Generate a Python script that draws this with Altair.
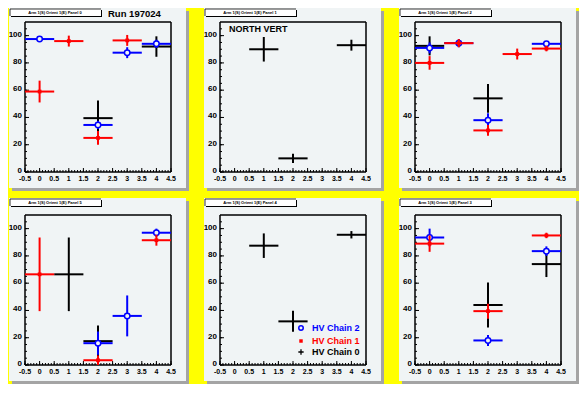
import altair as alt
import pandas as pd

# ---------------- data ----------------
PANEL_TITLES = [
    "Arm 1(S) Orient 1(E) Panel 0",
    "Arm 1(S) Orient 1(E) Panel 1",
    "Arm 1(S) Orient 1(E) Panel 2",
    "Arm 1(S) Orient 1(E) Panel 5",
    "Arm 1(S) Orient 1(E) Panel 4",
    "Arm 1(S) Orient 1(E) Panel 3",
]
CHAIN_LABELS = ["HV Chain 2", "HV Chain 1", "HV Chain 0"]
CHAIN_COLORS = ["#0000ff", "#ff0000", "#000000"]

# Panel 0
p0_c2_x = [0, 2, 3, 4]; p0_c2_y = [97.5, 34.5, 87.5, 94.0]; p0_c2_e = [1.5, 3, 4, 3]
p0_c1_x = [0, 1, 2, 3]; p0_c1_y = [59.0, 96.0, 25.0, 96.5]; p0_c1_e = [8, 4, 5, 4]
p0_c0_x = [2, 4];       p0_c0_y = [39.5, 92.0];             p0_c0_e = [13, 7.5]
# Panel 1
p1_c0_x = [1, 2, 4];    p1_c0_y = [90.0, 10.0, 93.0];       p1_c0_e = [9, 3.4, 4]
# Panel 2
p2_c2_x = [0, 1, 2, 4];    p2_c2_y = [91.0, 94.5, 38.0, 94.0];       p2_c2_e = [4, 3, 5, 2]
p2_c1_x = [0, 1, 2, 3, 4]; p2_c1_y = [80.0, 94.5, 30.5, 86.5, 90.5]; p2_c1_e = [5, 3, 4, 4, 2]
p2_c0_x = [0, 2];          p2_c0_y = [92.5, 54.0];                   p2_c0_e = [7, 10.5]
# Panel 5
p5_c2_x = [2, 3, 4]; p5_c2_y = [16.0, 36.0, 97.0]; p5_c2_e = [8.5, 15, 3]
p5_c1_x = [0, 2, 4]; p5_c1_y = [66.5, 3.5, 91.5];  p5_c1_e = [27, 3.5, 4]
p5_c0_x = [1, 2];    p5_c0_y = [66.5, 17.5];       p5_c0_e = [27, 11.5]
# Panel 4
p4_c0_x = [1, 2, 4]; p4_c0_y = [87.5, 32.0, 95.5]; p4_c0_e = [9, 7.7, 2.7]
# Panel 3
p3_c2_x = [0, 2, 4]; p3_c2_y = [93.5, 18.0, 83.5]; p3_c2_e = [6.5, 4, 3.5]
p3_c1_x = [0, 2, 4]; p3_c1_y = [89.0, 39.5, 95.0]; p3_c1_e = [6, 5.5, 2]
p3_c0_x = [2, 4];    p3_c0_y = [44.0, 74.0];       p3_c0_e = [16.5, 9.5]

X_LABELS = [-0.5, 0, 0.5, 1, 1.5, 2, 2.5, 3, 3.5, 4, 4.5]
X_MINOR = [round(-0.5 + 0.1 * i, 1) for i in range(51)]
Y_LABELS = [0, 20, 40, 60, 80, 100]
Y_MINOR = [5 * i for i in range(22)]

# ---------------- style ----------------
W, H = 146, 150
FONT = "Liberation Sans"
PAD_FILL = "#f0f4f5"
SHADOW = "#a4a4a4"
BG = "#ffff00"
XS = alt.Scale(domain=[-0.5, 4.5], nice=False, zero=False)
YS = alt.Scale(domain=[0, 110], nice=False, zero=False)
ONE = pd.DataFrame({"a": [0]})


def deco_rect(x1, x2, y1, y2, **kw):
    return alt.Chart(ONE).mark_rect(clip=False, **kw).encode(
        x=alt.value(x1), x2=alt.value(x2), y=alt.value(y1), y2=alt.value(y2))


def deco_line(x1, x2, y1, y2, **kw):
    return alt.Chart(ONE).mark_rule(clip=False, **kw).encode(
        x=alt.value(x1), x2=alt.value(x2), y=alt.value(y1), y2=alt.value(y2))


def deco_text(txt, x, y, **kw):
    return alt.Chart(ONE).mark_text(clip=False, font=FONT, fontWeight="bold", **kw).encode(
        x=alt.value(x), y=alt.value(y), text=alt.value(txt))


def series(x, y, err, color, marker):
    df = pd.DataFrame({"x": x, "y": y, "err": err})
    df["xlo"] = df["x"] - 0.5
    df["xhi"] = df["x"] + 0.5
    df["ylo"] = df["y"] - df["err"]
    df["yhi"] = df["y"] + df["err"]
    base = alt.Chart(df)
    hor = base.mark_rule(color=color, strokeWidth=2).encode(
        x=alt.X("xlo:Q", scale=XS, axis=None), x2="xhi:Q",
        y=alt.Y("y:Q", scale=YS, axis=None))
    ver = base.mark_rule(color=color, strokeWidth=2).encode(
        x=alt.X("x:Q", scale=XS, axis=None),
        y=alt.Y("ylo:Q", scale=YS, axis=None), y2="yhi:Q")
    layers = [hor, ver]
    enc = dict(x=alt.X("x:Q", scale=XS, axis=None), y=alt.Y("y:Q", scale=YS, axis=None))
    if marker == "circle":
        layers.append(base.mark_point(shape="circle", filled=False, color=color, fill=PAD_FILL,
                                      strokeWidth=1.5, size=30, opacity=1).encode(**enc))
    elif marker == "square":
        layers.append(base.mark_point(shape="square", filled=True, color=color,
                                      size=14, opacity=1).encode(**enc))
    return layers


def ticks_layers():
    ydf = pd.DataFrame({"v": Y_LABELS, "t": [f"{v:g}" for v in Y_LABELS]})
    xdf = pd.DataFrame({"v": X_LABELS, "t": [f"{v:g}" for v in X_LABELS]})
    ymaj = alt.Chart(ydf).mark_rule(color="black", strokeWidth=1).encode(
        y=alt.Y("v:Q", scale=YS, axis=None), x=alt.value(0), x2=alt.value(4))
    ylab = alt.Chart(ydf).mark_text(font=FONT, fontWeight="bold", fontSize=8, color="black",
                                    align="right", baseline="middle", dy=-1, clip=False).encode(
        y=alt.Y("v:Q", scale=YS, axis=None), x=alt.value(-3), text="t:N")
    ymin = alt.Chart(pd.DataFrame({"v": Y_MINOR})).mark_rule(color="black", strokeWidth=1).encode(
        y=alt.Y("v:Q", scale=YS, axis=None), x=alt.value(0), x2=alt.value(2))
    xmaj = alt.Chart(xdf).mark_rule(color="black", strokeWidth=1).encode(
        x=alt.X("v:Q", scale=XS, axis=None), y=alt.value(H), y2=alt.value(H - 4))
    xlab = alt.Chart(xdf).mark_text(font=FONT, fontWeight="bold", fontSize=7, color="black",
                                    align="center", baseline="top", clip=False).encode(
        x=alt.X("v:Q", scale=XS, axis=None), y=alt.value(H + 3), text="t:N")
    xmin = alt.Chart(pd.DataFrame({"v": X_MINOR})).mark_rule(color="black", strokeWidth=1).encode(
        x=alt.X("v:Q", scale=XS, axis=None), y=alt.value(H), y2=alt.value(H - 2))
    return [ymin, ymaj, ylab, xmin, xmaj, xlab]


def panel(title, top, chains, extras=()):
    layers = [
        deco_rect(-16 + 3, W + 15 + 3, top + 3, H + 16 + 3, color=SHADOW),
        deco_rect(-16, W + 15, top, H + 16, color=PAD_FILL),
        deco_rect(-15 + 1, 76 + 1, top + 1 + 1, top + 8 + 1, color="black"),
        deco_rect(-15, 76, top + 1, top + 8, color="white"),
        deco_line(-15, 76, top + 1, top + 1, color="black", strokeWidth=0.8),
        deco_line(-15, -15, top + 1, top + 8, color="black", strokeWidth=0.8),
        deco_text(title, 30, top + 4.8, fontSize=4, align="center", baseline="middle", color="black"),
        deco_line(0, W, 0, 0, color="black", strokeWidth=1.5),
        deco_line(0, W, H, H, color="black", strokeWidth=1.5),
        deco_line(0, 0, 0, H, color="black", strokeWidth=1.5),
        deco_line(W, W, 0, H, color="black", strokeWidth=1.5),
    ]
    layers += ticks_layers()
    for c in chains:
        layers += c
    layers += list(extras)
    return alt.layer(*layers).properties(width=W, height=H)


BLUE, RED, BLACK = CHAIN_COLORS[0], CHAIN_COLORS[1], CHAIN_COLORS[2]

legend_layers = [
    alt.Chart(ONE).mark_point(shape="circle", filled=False, color=BLUE, fill=PAD_FILL, strokeWidth=1.5,
                              size=20, opacity=1)
    .encode(x=alt.value(81), y=alt.value(113)),
    alt.Chart(ONE).mark_point(shape="square", filled=True, color=RED, size=12, opacity=1)
    .encode(x=alt.value(81), y=alt.value(126)),
    alt.Chart(ONE).mark_point(shape="M-1,0L1,0M0,-1L0,1", filled=False, color=BLACK, strokeWidth=1.3,
                              size=28, opacity=1)
    .encode(x=alt.value(81), y=alt.value(137)),
    deco_text(CHAIN_LABELS[0], 92, 113, fontSize=9, align="left", baseline="middle", color=BLUE),
    deco_text(CHAIN_LABELS[1], 92, 126, fontSize=9, align="left", baseline="middle", color=RED),
    deco_text(CHAIN_LABELS[2], 92, 137, fontSize=9, align="left", baseline="middle", color=BLACK),
]

panels = [
    panel(PANEL_TITLES[0], -14, [
        series(p0_c0_x, p0_c0_y, p0_c0_e, BLACK, None),
        series(p0_c2_x, p0_c2_y, p0_c2_e, BLUE, "circle"),
        series(p0_c1_x, p0_c1_y, p0_c1_e, RED, "square"),
    ], [deco_text("Run 197024", 83, -8, fontSize=9.5, align="left", baseline="middle", color="black")]),
    panel(PANEL_TITLES[1], -14, [
        series(p1_c0_x, p1_c0_y, p1_c0_e, BLACK, None),
    ], [deco_text("NORTH VERT", 9, 7, fontSize=9, align="left", baseline="middle", color="black")]),
    panel(PANEL_TITLES[2], -14, [
        series(p2_c0_x, p2_c0_y, p2_c0_e, BLACK, None),
        series(p2_c2_x, p2_c2_y, p2_c2_e, BLUE, "circle"),
        series(p2_c1_x, p2_c1_y, p2_c1_e, RED, "square"),
    ]),
    panel(PANEL_TITLES[3], -17, [
        series(p5_c0_x, p5_c0_y, p5_c0_e, BLACK, None),
        series(p5_c2_x, p5_c2_y, p5_c2_e, BLUE, "circle"),
        series(p5_c1_x, p5_c1_y, p5_c1_e, RED, "square"),
    ]),
    panel(PANEL_TITLES[4], -17, [
        series(p4_c0_x, p4_c0_y, p4_c0_e, BLACK, None),
    ], legend_layers),
    panel(PANEL_TITLES[5], -17, [
        series(p3_c0_x, p3_c0_y, p3_c0_e, BLACK, None),
        series(p3_c2_x, p3_c2_y, p3_c2_e, BLUE, "circle"),
        series(p3_c1_x, p3_c1_y, p3_c1_e, RED, "square"),
    ]),
]

chart = alt.ConcatChart(
    concat=panels, columns=3, spacing={"row": 43, "column": 49}, bounds="flush",
    background=BG, padding=0,
).configure_view(stroke=None)

chart.save("out.html", embed_options={"renderer": "svg", "actions": False})
